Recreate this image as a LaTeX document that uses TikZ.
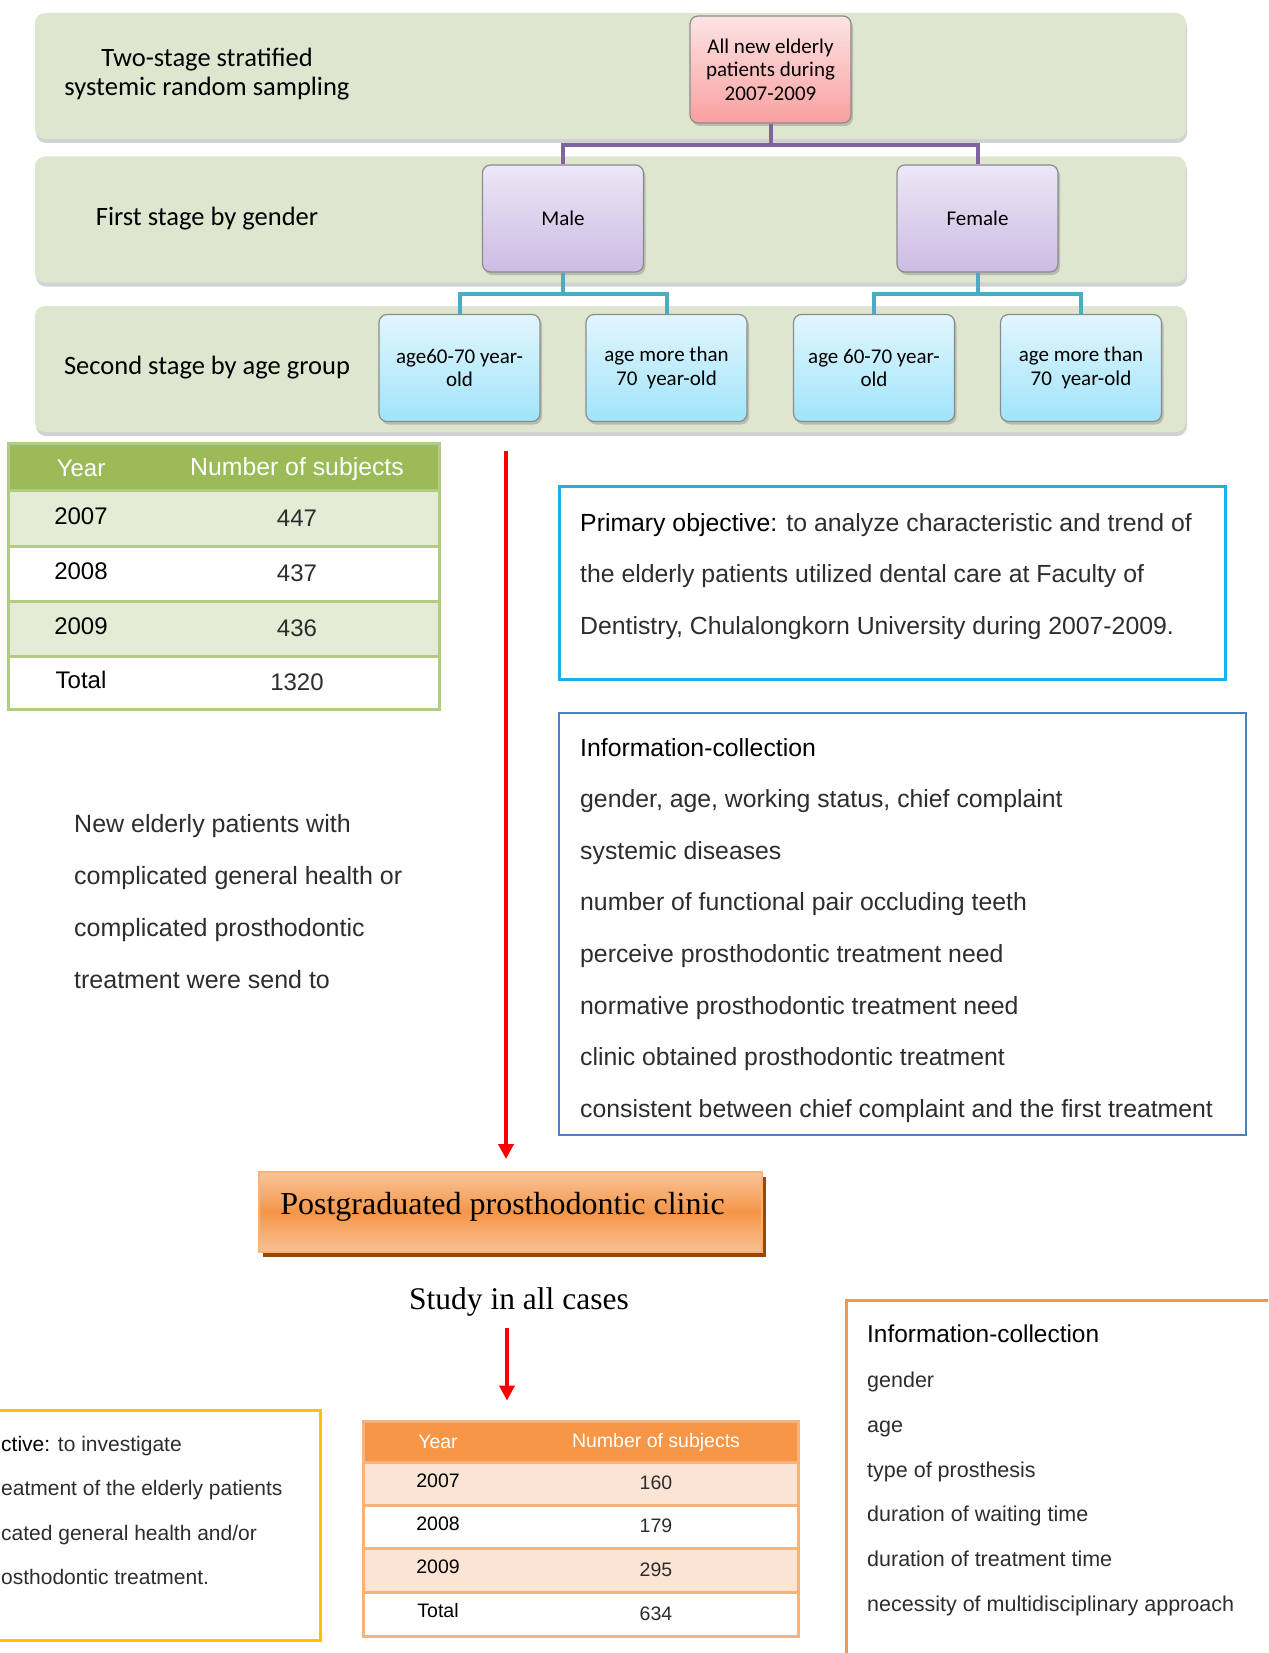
\documentclass[tikz,border=0pt]{standalone}
\usepackage{fontspec}
\setmainfont{Liberation Sans}
\newfontfamily\calibrif{Carlito}
\newfontfamily\timesf{Liberation Serif}
\usetikzlibrary{arrows.meta,positioning,shadows}

\definecolor{bandFill}{RGB}{222,230,208}
\definecolor{boxLine}{RGB}{140,140,140}
\definecolor{rootTop}{RGB}{253,228,228}
\definecolor{rootBot}{RGB}{249,160,160}
\definecolor{sexTop}{RGB}{236,231,246}
\definecolor{sexBot}{RGB}{205,187,228}
\definecolor{ageTop}{RGB}{226,246,253}
\definecolor{ageBot}{RGB}{160,228,250}
\definecolor{purpLine}{RGB}{128,100,162}
\definecolor{tealLine}{RGB}{75,172,198}
\definecolor{gHead}{RGB}{155,187,89}
\definecolor{gRow}{RGB}{228,236,214}
\definecolor{gLine}{RGB}{178,204,130}
\definecolor{oHead}{RGB}{247,150,70}
\definecolor{oRow}{RGB}{252,228,212}
\definecolor{oLine}{RGB}{249,178,120}
\definecolor{primLine}{RGB}{28,176,232}
\definecolor{infoLine}{RGB}{79,129,189}
\definecolor{secLine}{RGB}{255,192,0}
\definecolor{clinicTop}{RGB}{250,196,152}
\definecolor{clinicMid}{RGB}{245,150,72}
\definecolor{clinicBot}{RGB}{250,194,150}
\definecolor{clinicShadow}{RGB}{152,72,7}
\definecolor{bodyGrey}{RGB}{45,45,45}

\begin{document}
\begin{tikzpicture}[
  x=1pt, y=-1pt,
  band/.style={
    fill=bandFill,
    rounded corners=10pt,
    minimum width=1151pt,
    minimum height=126pt,
    drop shadow={shadow xshift=1pt, shadow yshift=-4pt, opacity=.35}
  },
  bandlabel/.style={font=\calibrif\fontsize{26.5}{29}\selectfont, align=center},
  treebox/.style={
    draw=boxLine,
    line width=1.2pt,
    rounded corners=8pt,
    minimum width=161pt,
    minimum height=107pt,
    inner sep=2pt,
    align=center,
    font=\calibrif\fontsize{21}{23.5}\selectfont,
    drop shadow={shadow xshift=2pt, shadow yshift=-3pt, opacity=.4}
  },
  rootbox/.style={treebox, top color=rootTop, bottom color=rootBot},
  sexbox/.style={treebox, top color=sexTop, bottom color=sexBot},
  agebox/.style={treebox, top color=ageTop, bottom color=ageBot},
  purpconn/.style={draw=purpLine, line width=4pt},
  tealconn/.style={draw=tealLine, line width=4pt},
  redarrow/.style={draw=red, line width=4.5pt, -{Triangle[length=15pt, width=15pt]}},
  gtabrow/.style={draw=gLine, line width=3pt, minimum width=431pt, inner sep=0pt},
  gtxt/.style={font=\fontsize{24}{28}\selectfont, inner sep=0pt},
  otabrow/.style={draw=oLine, line width=3pt, minimum width=435pt, inner sep=0pt},
  otxt/.style={font=\fontsize{19.5}{23}\selectfont, inner sep=0pt},
  boxframe/.style={line width=3pt, inner sep=0pt},
  bodytext/.style={align=left, inner sep=0pt, anchor=north west, text=bodyGrey}
]

\path[fill=white, use as bounding box] (0,0) rectangle (1268,1653);
\clip (0,0) rectangle (1268,1653);

% sampling bands
\node[band] (band1) at (610.5,76) {};
\node[band] (band2) at (610.5,219.5) {};
\node[band] (band3) at (610.5,369) {};

\node[bandlabel] (lblSampling) at (207,74.5) {Two-stage stratified\\systemic random sampling};
\node[bandlabel] (lblGender) at (207,219) {First stage by gender};
\node[bandlabel] (lblAge) at (207,368) {Second stage by age group};

% tree
\node[rootbox] (root) at (770.5,69.5) {All new elderly\\patients during\\2007-2009};
\node[sexbox] (male) at (563,218.5) {Male};
\node[sexbox] (female) at (977.5,218.5) {Female};
\node[agebox] (maleYoung) at (459.5,368) {age60-70 year-\\old};
\node[agebox] (maleOld) at (666.5,368) {age more than\\70~ year-old};
\node[agebox] (femaleYoung) at (874,368) {age 60-70 year-\\old};
\node[agebox] (femaleOld) at (1081,368) {age more than\\70~ year-old};

\draw[purpconn] (root.south) -- ++(0,21) -| (male.north);
\draw[purpconn] (root.south) -- ++(0,21) -| (female.north);
\draw[tealconn] (male.south) -- ++(0,21) -| (maleYoung.north);
\draw[tealconn] (male.south) -- ++(0,21) -| (maleOld.north);
\draw[tealconn] (female.south) -- ++(0,21) -| (femaleYoung.north);
\draw[tealconn] (female.south) -- ++(0,21) -| (femaleOld.north);

% all new patients table
\node[gtabrow, fill=gHead, minimum height=47pt] (gHeadRow) at (223.5,466.5) {};
\node[gtabrow, fill=gRow, minimum height=56pt] (g07) at (223.5,518) {};
\node[gtabrow, fill=white, minimum height=55pt] (g08) at (223.5,573.5) {};
\node[gtabrow, fill=gRow, minimum height=55pt] (g09) at (223.5,628.5) {};
\node[gtabrow, fill=white, minimum height=53pt] (gTot) at (223.5,682.5) {};

\node[gtxt, text=white] (gYear) at (81,468) {Year};
\node[gtxt, text=white, font=\fontsize{24.8}{28}\selectfont] (gNum) at (297,469) {Number of subjects};
\node[gtxt] (gY07) at (81,516) {2007};
\node[gtxt, text=bodyGrey] (gN07) at (297,518) {447};
\node[gtxt] (gY08) at (81,571) {2008};
\node[gtxt, text=bodyGrey] (gN08) at (297,573) {437};
\node[gtxt] (gY09) at (81,626) {2009};
\node[gtxt, text=bodyGrey] (gN09) at (297,628) {436};
\node[gtxt] (gYTot) at (81,680) {Total};
\node[gtxt, text=bodyGrey] (gNTot) at (297,682) {1320};

% objective and collected data
\node[boxframe, draw=primLine, minimum width=666pt, minimum height=193pt] (prim) at (892,582.5) {};
\node[bodytext, font=\fontsize{24.8}{51.5}\selectfont] (primText) at (580,513)
  {{\color{black}Primary objective:} to analyze characteristic and trend of\\
   the elderly patients utilized dental care at Faculty of\\
   Dentistry, Chulalongkorn University during 2007-2009.};

\node[boxframe, draw=infoLine, line width=2.5pt, minimum width=687pt, minimum height=422pt] (info1) at (902.5,924) {};
\node[bodytext, font=\fontsize{24.8}{51.6}\selectfont] (info1Text) at (580,738)
  {{\color{black}Information-collection}\\
   gender, age, working status, chief complaint\\
   systemic diseases\\
   number of functional pair occluding teeth\\
   perceive prosthodontic treatment need\\
   normative prosthodontic treatment need\\
   clinic obtained prosthodontic treatment\\
   consistent between chief complaint and the first treatment};

\node[bodytext, font=\fontsize{25}{52}\selectfont] (referNote) at (74,814)
  {New elderly patients with\\
   complicated general health or\\
   complicated prosthodontic\\
   treatment were send to};

% clinic
\coordinate (arrowTop) at (506,451);
\node[draw=oLine, line width=2pt, minimum width=503pt, minimum height=80pt,
  top color=clinicTop, bottom color=clinicBot, middle color=clinicMid,
  drop shadow={shadow xshift=4pt, shadow yshift=-5pt, opacity=1, fill=clinicShadow},
  text depth=17pt,
  font=\timesf\fontsize{32}{36}\selectfont] (clinic) at (510.5,1212) {Postgraduated prosthodontic clinic\hspace*{16pt}};
\draw[redarrow, shorten >=12pt] (arrowTop) -- (arrowTop |- clinic.north);

\node[font=\timesf\fontsize{31.5}{36}\selectfont] (study) at (519,1302) {Study in all cases};

% clinic table
\node[otabrow, fill=oHead, minimum height=41pt] (oHeadRow) at (580.5,1441.5) {};
\node[otabrow, fill=oRow, minimum height=43pt] (o07) at (580.5,1483.5) {};
\node[otabrow, fill=white, minimum height=43pt] (o08) at (580.5,1526.5) {};
\node[otabrow, fill=oRow, minimum height=44pt] (o09) at (580.5,1570) {};
\node[otabrow, fill=white, minimum height=44pt] (oTot) at (580.5,1614) {};

\coordinate (studyArrow) at (507,1328);
\draw[redarrow, shorten >=19pt] (studyArrow) -- (studyArrow |- oHeadRow.north);

\node[otxt, text=white] (oYear) at (438,1442) {Year};
\node[otxt, text=white] (oNum) at (656,1442) {Number of subjects};
\node[otxt] (oY07) at (438,1481) {2007};
\node[otxt, text=bodyGrey] (oN07) at (656,1483) {160};
\node[otxt] (oY08) at (438,1524) {2008};
\node[otxt, text=bodyGrey] (oN08) at (656,1526) {179};
\node[otxt] (oY09) at (438,1567) {2009};
\node[otxt, text=bodyGrey] (oN09) at (656,1570) {295};
\node[otxt] (oYTot) at (438,1611) {Total};
\node[otxt, text=bodyGrey] (oNTot) at (656,1614) {634};

% secondary objective (cut at the page edge)
\node[boxframe, draw=secLine, minimum width=330pt, minimum height=230pt] (secObj) at (155,1525) {};
\node[bodytext, font=\fontsize{21}{44.3}\selectfont] (secText) at (1,1436)
  {{\color{black}ctive:} to investigate\\
   eatment of the elderly patients\\
   cated general health and/or\\
   osthodontic treatment.};

% data collected at the clinic
\node[boxframe, draw=oHead, minimum width=444pt, minimum height=400pt] (info2) at (1068,1500) {};
\node[bodytext, font=\fontsize{21.5}{44.7}\selectfont] (info2Text) at (867,1325)
  {{\color{black}\fontsize{24.4}{44.7}\selectfont Information-collection}\\
   gender\\
   age\\
   type of prosthesis\\
   duration of waiting time\\
   duration of treatment time\\
   necessity of multidisciplinary approach};

\end{tikzpicture}
\end{document}
